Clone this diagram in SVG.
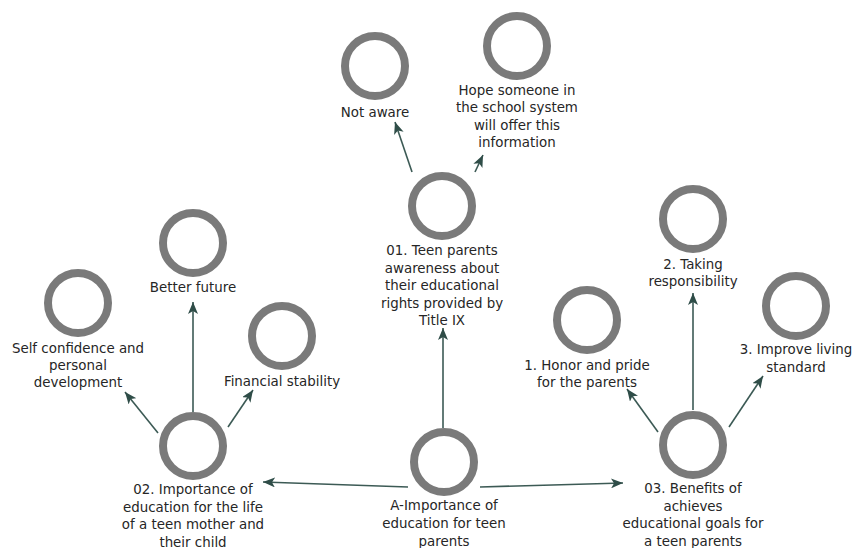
<svg xmlns="http://www.w3.org/2000/svg" width="852" height="548" viewBox="0 0 852 548">
  <style>
    .ring { fill: none; stroke: #7a7a7a; stroke-width: 8; }
    .lbl { font-family: "DejaVu Sans", "Liberation Sans", sans-serif; font-size: 13.4px; fill: #262626; text-anchor: middle; }
    .link { stroke: #3c5a55; stroke-width: 1.6; fill: none; marker-end: url(#tip); }
  </style>
  <defs>
    <marker id="tip" markerUnits="userSpaceOnUse" markerWidth="13" markerHeight="10" viewBox="0 0 13 10" refX="12" refY="5" orient="auto">
      <path d="M0,0 L12,5 L0,10 L3,5 Z" fill="#2f4d48"/>
    </marker>
  </defs>
  <rect width="852" height="548" fill="#ffffff"/>

  <g id="connectors">
    <line class="link" x1="408" y1="487" x2="263" y2="482"/>
    <line class="link" x1="480" y1="487" x2="623" y2="483"/>
    <line class="link" x1="443" y1="428" x2="443" y2="328"/>
    <line class="link" x1="412" y1="172" x2="395" y2="122"/>
    <line class="link" x1="475" y1="172" x2="483" y2="155"/>
    <line class="link" x1="193" y1="412" x2="193" y2="302"/>
    <line class="link" x1="158" y1="433" x2="125" y2="392"/>
    <line class="link" x1="228" y1="427" x2="253" y2="390"/>
    <line class="link" x1="693" y1="410" x2="693" y2="293"/>
    <line class="link" x1="658" y1="432" x2="627" y2="389"/>
    <line class="link" x1="729" y1="427" x2="763" y2="376"/>
  </g>

  <g id="root">
    <circle class="ring" cx="444" cy="462" r="30"/>
    <text class="lbl" x="444" y="510"><tspan x="444">A-Importance of</tspan><tspan x="444" dy="18">education for teen</tspan><tspan x="444" dy="18">parents</tspan></text>
  </g>

  <g id="awareness">
    <circle class="ring" cx="442" cy="206" r="30"/>
    <text class="lbl" x="442" y="255"><tspan x="442">01. Teen parents</tspan><tspan x="442" dy="17.5">awareness about</tspan><tspan x="442" dy="17.5">their educational</tspan><tspan x="442" dy="17.5">rights provided by</tspan><tspan x="442" dy="17.5">Title IX</tspan></text>
  </g>

  <g id="not-aware">
    <circle class="ring" cx="375" cy="66" r="30"/>
    <text class="lbl" x="375" y="117">Not aware</text>
  </g>

  <g id="hope">
    <circle class="ring" cx="517" cy="46" r="30"/>
    <text class="lbl" x="517" y="95"><tspan x="517">Hope someone in</tspan><tspan x="517" dy="17.3">the school system</tspan><tspan x="517" dy="17.3">will offer this</tspan><tspan x="517" dy="17.3">information</tspan></text>
  </g>

  <g id="importance-life">
    <circle class="ring" cx="193" cy="446" r="30"/>
    <text class="lbl" x="193" y="494"><tspan x="193">02. Importance of</tspan><tspan x="193" dy="17.5">education for the life</tspan><tspan x="193" dy="17.5">of a teen mother and</tspan><tspan x="193" dy="17.5">their child</tspan></text>
  </g>

  <g id="better-future">
    <circle class="ring" cx="193" cy="243" r="30"/>
    <text class="lbl" x="193" y="292">Better future</text>
  </g>

  <g id="self-confidence">
    <circle class="ring" cx="78" cy="303" r="30"/>
    <text class="lbl" x="78" y="353"><tspan x="78">Self confidence and</tspan><tspan x="78" dy="17">personal</tspan><tspan x="78" dy="17">development</tspan></text>
  </g>

  <g id="financial">
    <circle class="ring" cx="282" cy="336" r="30"/>
    <text class="lbl" x="282" y="386">Financial stability</text>
  </g>

  <g id="benefits">
    <circle class="ring" cx="693" cy="445" r="30"/>
    <text class="lbl" x="693" y="493"><tspan x="693">03. Benefits of</tspan><tspan x="693" dy="17.7">achieves</tspan><tspan x="693" dy="17.7">educational goals for</tspan><tspan x="693" dy="17.7">a teen parents</tspan></text>
  </g>

  <g id="responsibility">
    <circle class="ring" cx="693" cy="219" r="30"/>
    <text class="lbl" x="693" y="268.5"><tspan x="693">2. Taking</tspan><tspan x="693" dy="17">responsibility</tspan></text>
  </g>

  <g id="honor">
    <circle class="ring" cx="587" cy="320" r="30"/>
    <text class="lbl" x="587" y="370"><tspan x="587">1. Honor and pride</tspan><tspan x="587" dy="16.5">for the parents</tspan></text>
  </g>

  <g id="living-standard">
    <circle class="ring" cx="796" cy="306" r="30"/>
    <text class="lbl" x="796" y="354"><tspan x="796">3. Improve living</tspan><tspan x="796" dy="17.5">standard</tspan></text>
  </g>
</svg>
